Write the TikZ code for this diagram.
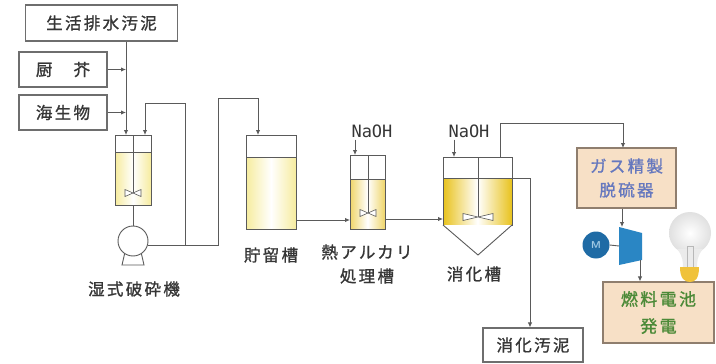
\documentclass[tikz,border=0pt]{standalone}
\usepackage{fontspec}
\usetikzlibrary{arrows.meta}
\newfontfamily\jpfont[LetterSpace=14, FakeBold=1.2]{Noto Sans CJK JP}
\newfontfamily\naohfont{DejaVu Sans Mono}
\definecolor{pipegray}{HTML}{5A5A5A}
\definecolor{boxgray}{HTML}{6E6E6E}
\definecolor{txtgray}{HTML}{363636}
\definecolor{paleyellow}{HTML}{F6EC9E}
\definecolor{midyellow}{HTML}{EFD569}
\definecolor{goldyellow}{HTML}{E8C21C}
\definecolor{peach}{HTML}{F7E0C6}
\definecolor{peachedge}{HTML}{8F7E6E}
\definecolor{gasblue}{HTML}{6678BE}
\definecolor{cellgreen}{HTML}{4C8A38}
\definecolor{blowerblue}{HTML}{2A86C4}
\definecolor{motorblue}{HTML}{1F6BA5}
\definecolor{bulbbase}{HTML}{F0C23A}
% impeller: two small triangles meeting on the shaft at (#1,#2), half width #3
\newcommand\drawpaddle[3]{%
  \draw[pipe, fill=white, line width=0.6pt] (#1-#3,#2-3.5) -- (#1-#3,#2+3.5) -- (#1,#2) -- cycle
    (#1+#3,#2-3.5) -- (#1+#3,#2+3.5) -- (#1,#2) -- cycle;}
\begin{document}
\begin{tikzpicture}[x=1pt,y=-1pt,
  pipe/.style={draw=pipegray, line width=0.9pt},
  feed/.style={pipe, -{Latex[length=5pt,width=4.5pt]}},
  labelbox/.style={draw=boxgray, line width=1.2pt, fill=white, inner sep=0pt,
    font=\jpfont\fontsize{16.5}{20}\selectfont, text=txtgray},
  vessel/.style={draw=pipegray, line width=0.9pt, inner sep=0pt},
  caption/.style={font=\jpfont\fontsize{16.5}{24}\selectfont, text=txtgray, align=center, inner sep=0pt},
  unitbox/.style={draw=peachedge, line width=1.2pt, fill=peach, inner sep=0pt, align=center},
  naoh/.style={font=\naohfont\fontsize{17}{17}\selectfont, text=txtgray, inner sep=0pt}]
\useasboundingbox (0,0) rectangle (716,364);
\fill[white] (0,0) rectangle (716,364);

% raw material boxes
\node[labelbox, minimum width=152pt, minimum height=36pt] (domestic) at (101.5,23) {生活排水汚泥};
\node[labelbox, minimum width=88pt, minimum height=35pt] (kitchen) at (63,69.5) {厨　芥};
\node[labelbox, minimum width=88pt, minimum height=35pt] (marine) at (63,112.5) {海生物};

% wet crusher
\shade[left color=paleyellow, right color=paleyellow, middle color=white] (115,152) rectangle (151,205);
\node[vessel, minimum width=36pt, minimum height=70pt] (crusher) at (133,170) {};
\draw[pipe] (115,152) -- (151,152);
\draw[pipe, line width=0.7pt] (133,135) -- (133,193);
\drawpaddle{133}{193}{8}
\coordinate (in1) at (126,135);
\coordinate (in2) at (145,135);
\draw[feed] (domestic.south -| in1) -- (in1);
\draw[feed] (kitchen.east) -- (kitchen.east -| in1);
\draw[feed] (marine.east) -- (marine.east -| in1);

% pump
\draw[pipe, fill=white] (125,252) -- (122,265) -- (144,265) -- (141,252);
\node[vessel, circle, minimum size=30pt, fill=white] (pump) at (133,241) {};
\draw[pipe] (crusher.south) -- (pump.north);
\node[caption] (crusherlbl) at (134,289) {湿式破砕機};

% transfer to storage, with recirculation to the crusher
\coordinate (stin) at (258,135);
\coordinate (recx) at (185,103);
\draw[feed] (pump.-15) -| (218,98) -| (stin);
\draw[feed] (pump.-15 -| recx) -- (recx) -| (in2);

% storage tank
\shade[left color=paleyellow, right color=paleyellow, middle color=white] (246,157) rectangle (296,229);
\node[vessel, minimum width=50pt, minimum height=94pt] (storage) at (271,182) {};
\draw[pipe] (246,157) -- (296,157);
\node[caption] (storagelbl) at (271,255) {貯留槽};

% thermal alkaline treatment tank
\shade[left color=midyellow, right color=midyellow, middle color=white] (350,179) rectangle (385,229);
\node[vessel, minimum width=35pt, minimum height=74pt] (heat) at (367.5,192) {};
\draw[pipe] (350,179) -- (385,179);
\draw[pipe, line width=0.7pt] (368,155) -- (368,213);
\drawpaddle{368}{213}{8}
\node[naoh] (naoh1) at (372,131) {NaOH};
\coordinate (hin) at (355,155);
\draw[feed] (naoh1.south -| hin) ++(0,2) -- (hin);
\coordinate (hfeed) at (350,220);
\draw[feed] (storage.east |- hfeed) -- (hfeed);
\node[caption] (heatlbl) at (367,264) {熱アルカリ\\処理槽};

% digester
\shade[left color=goldyellow, right color=goldyellow, middle color=white] (443,178) rectangle (512,225);
\node[vessel, minimum width=69pt, minimum height=68pt] (digester) at (477.5,191) {};
\draw[pipe, fill=white] (443,225) -- (478,255) -- (512,225);
\draw[pipe] (443,178) -- (512,178);
\draw[pipe, line width=0.7pt] (478,157) -- (478,217);
\drawpaddle{478}{217}{15}
\node[naoh] (naoh2) at (469,131) {NaOH};
\coordinate (din) at (454,157);
\draw[feed] (naoh2.south -| din) ++(0,2) -- (din);
\coordinate (dfeed) at (443,219);
\draw[feed] (heat.east |- dfeed) -- (dfeed);
\node[caption] (digesterlbl) at (474,274) {消化槽};

% digested sludge
\node[labelbox, minimum width=100pt, minimum height=34pt] (digested) at (533,345) {消化汚泥};
\coordinate (ovf) at (530,178);
\draw[feed] (digester.east |- ovf) -- (ovf) -- (ovf |- digested.north);

% biogas purification
\node[unitbox, minimum width=99pt, minimum height=60pt,
  font=\jpfont\fontsize{16.5}{24}\selectfont, text=gasblue] (purifier) at (626.5,178) {ガス精製\\脱硫器};
\coordinate (gasup) at (500,123);
\coordinate (gasin) at (623,148);
\draw[feed] (digester.north -| gasup) -- (gasup) -| (gasin);

% blower and motor
\fill[blowerblue] (619,227) -- (642,233) -- (642,260) -- (619,265) -- cycle;
\coordinate (blowtop) at (622,227);
\coordinate (blowleft) at (619,246);
\coordinate (blowout) at (640,260);
\draw[feed] (purifier.south -| blowtop) -- (blowtop);
\node[circle, fill=motorblue, minimum size=27pt, inner sep=0pt, text=blowerblue!45,
  font=\sffamily\bfseries\fontsize{10}{10}\selectfont] (motor) at (596,245) {M};
\draw[pipe] (motor.east) -- (blowleft);

% fuel cell
\node[unitbox, minimum width=111pt, minimum height=61pt,
  font=\jpfont\fontsize{17}{27}\selectfont, text=cellgreen] (cell) at (658.5,312.5) {燃料電池\\発電};
\draw[feed] (blowout) -- (blowout |- cell.north);

% light bulb
\shade[inner color=white, outer color=black!12] (690,233) circle (21);
\fill[black!8] (677,249) .. controls (683,256) and (683,262) .. (683,268) -- (697,268)
  .. controls (697,262) and (697,256) .. (703,249) -- cycle;
\draw[black!28, line width=0.5pt] (687,268) -- (687,246) -- (693,246) -- (693,268);
\fill[bulbbase] (680,267) -- (699,267) .. controls (699,279) and (695,282) .. (690,282)
  .. controls (685,282) and (680,279) .. (680,267) -- cycle;
\end{tikzpicture}
\end{document}
